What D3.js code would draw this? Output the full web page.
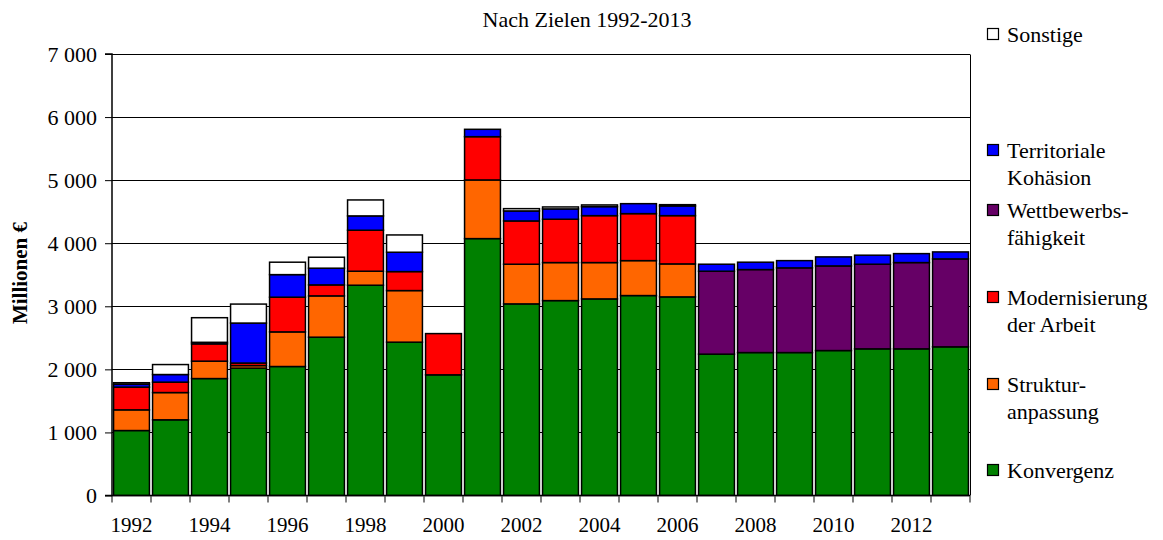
<!DOCTYPE html>
<html>
<head>
<meta charset="utf-8">
<script src="https://cdn.jsdelivr.net/npm/d3@7"></script>
<style>
  html, body { margin: 0; padding: 0; background: #fff; }
  svg { display: block; }
  text { font-family: "Liberation Serif", "Times New Roman", serif; fill: #000; }
</style>
</head>
<body>
<svg id="chart" width="1163" height="540"></svg>
<script>
const years = [1992,1993,1994,1995,1996,1997,1998,1999,2000,2001,2002,2003,2004,2005,2006,2007,2008,2009,2010,2011,2012,2013];
const konvergenz     = [1030,1200,1854,2019,2045,2510,3334,2431,1913,4073,3038,3090,3117,3170,3149,2241,2266,2266,2298,2325,2325,2357];
const strukturanpassung = [328,432,276,41,549,655,222,818,0,930,629,603,576,554,523,0,0,0,0,0,0,0];
const modernisierung = [360,165,274,40,550,174,650,301,654,686,686,687,744,745,765,0,0,0,0,0,0,0];
const wettbewerb     = [0,0,0,0,0,0,0,0,0,0,0,0,0,0,0,1315,1316,1343,1342,1342,1368,1394];
const territorial    = [45,121,25,634,358,265,227,307,0,117,159,164,143,158,154,111,117,115,143,143,142,111];
const sonstige       = [25,158,390,301,197,174,253,274,0,0,36,31,27,0,20,0,0,0,0,0,0,0];

const seriesNames = ["Konvergenz","Struktur-\nanpassung","Modernisierung\nder Arbeit","Wettbewerbs-\nfähigkeit","Territoriale\nKohäsion","Sonstige"];
const seriesKeys = ["k","s","m","w","t","o"];
const seriesColors = ["#008000","#FF6600","#FF0000","#660066","#0000FF","#FFFFFF"];
const yTicks = [0,1000,2000,3000,4000,5000,6000,7000];
const xTickLabels = [1992,1994,1996,1998,2000,2002,2004,2006,2008,2010,2012];
const title = "Nach Zielen 1992-2013";
const yTitle = "Millionen €";

const rows = years.map((y,i) => ({year:y, k:konvergenz[i], s:strukturanpassung[i], m:modernisierung[i], w:wettbewerb[i], t:territorial[i], o:sonstige[i]}));

const svg = d3.select("#chart");
const pLeft = 112, pRight = 970, pTop = 54, pBottom = 495.5;

const x = d3.scaleBand().domain(years).range([pLeft,pRight]).paddingInner(0.08).paddingOuter(0.04);
const y = d3.scaleLinear().domain([0,7000]).range([pBottom,pTop]);

// gridlines
svg.append("g").selectAll("line").data(yTicks.filter(d=>d>0)).join("line")
  .attr("x1",pLeft).attr("x2",pRight)
  .attr("y1",d=>Math.round(y(d))+0.5).attr("y2",d=>Math.round(y(d))+0.5)
  .attr("stroke","#000").attr("stroke-width",1);
// right border
svg.append("line").attr("x1",pRight+0.5).attr("x2",pRight+0.5).attr("y1",Math.round(y(7000))+0.5).attr("y2",pBottom)
  .attr("stroke","#000").attr("stroke-width",1);

// stacked bars
const stack = d3.stack().keys(seriesKeys);
const stacked = stack(rows);
const gBars = svg.append("g");
stacked.forEach((layer,li) => {
  gBars.append("g").selectAll("rect").data(layer.filter(d => d[1]-d[0] > 0)).join("rect")
    .attr("x", d => x(d.data.year))
    .attr("width", x.bandwidth())
    .attr("y", d => y(d[1]))
    .attr("height", d => y(d[0]) - y(d[1]))
    .attr("fill", seriesColors[li])
    .attr("stroke","#000")
    .attr("stroke-width",1.5);
});

// y axis
const yAxis = d3.axisLeft(y).tickValues(yTicks).tickSize(7).tickPadding(8)
  .tickFormat(d => d3.format(",")(d).replace(/,/g," "));
const gy = svg.append("g").attr("transform",`translate(${pLeft},0)`).call(yAxis);
gy.select(".domain").attr("stroke","#000").attr("stroke-width",1.5).attr("d",`M-7,${pTop}H0V${pBottom}H-7`);
gy.selectAll(".tick line").attr("stroke","#000").attr("stroke-width",1);
gy.selectAll(".tick text").attr("font-size",22).attr("font-family","Liberation Serif");

// x axis (ticks at category boundaries)
const boundaries = years.map(yr => x(yr) - x.step()*x.paddingInner()/2).concat([pRight]);
const gx = svg.append("g");
gx.append("line").attr("x1",pLeft).attr("x2",pRight).attr("y1",pBottom).attr("y2",pBottom).attr("stroke","#000").attr("stroke-width",1.5);
gx.selectAll("line.tk").data(boundaries).join("line").attr("class","tk")
  .attr("x1",d=>d).attr("x2",d=>d).attr("y1",pBottom).attr("y2",pBottom+7)
  .attr("stroke","#000").attr("stroke-width",1);
gx.selectAll("text").data(xTickLabels).join("text")
  .attr("x", d => x(d) + x.bandwidth()/2)
  .attr("y", 532)
  .attr("text-anchor","middle")
  .attr("font-size",21)
  .text(d=>d);

// title
svg.append("text").attr("x",587).attr("y",27).attr("text-anchor","middle").attr("font-size",22).text(title);

// y title
svg.append("text").attr("transform","translate(27,273) rotate(-90)").attr("text-anchor","middle")
  .attr("font-size",21).attr("font-weight","bold").text(yTitle);

// legend (top to bottom: reverse order)
const legendY = [35,151,211,298,385,471];
const legendOrder = [5,4,3,2,1,0];
const gl = svg.append("g");
legendOrder.forEach((si,idx) => {
  const yy = legendY[idx];
  gl.append("rect").attr("x",987.5).attr("y",yy-6.5).attr("width",11).attr("height",11)
    .attr("fill",seriesColors[si]).attr("stroke","#000").attr("stroke-width",1.2);
  const lines = seriesNames[si].split("\n");
  lines.forEach((ln,j) => {
    gl.append("text").attr("x",1007).attr("y",yy+7+j*27).attr("font-size",22).text(ln);
  });
});
</script>
</body>
</html>
